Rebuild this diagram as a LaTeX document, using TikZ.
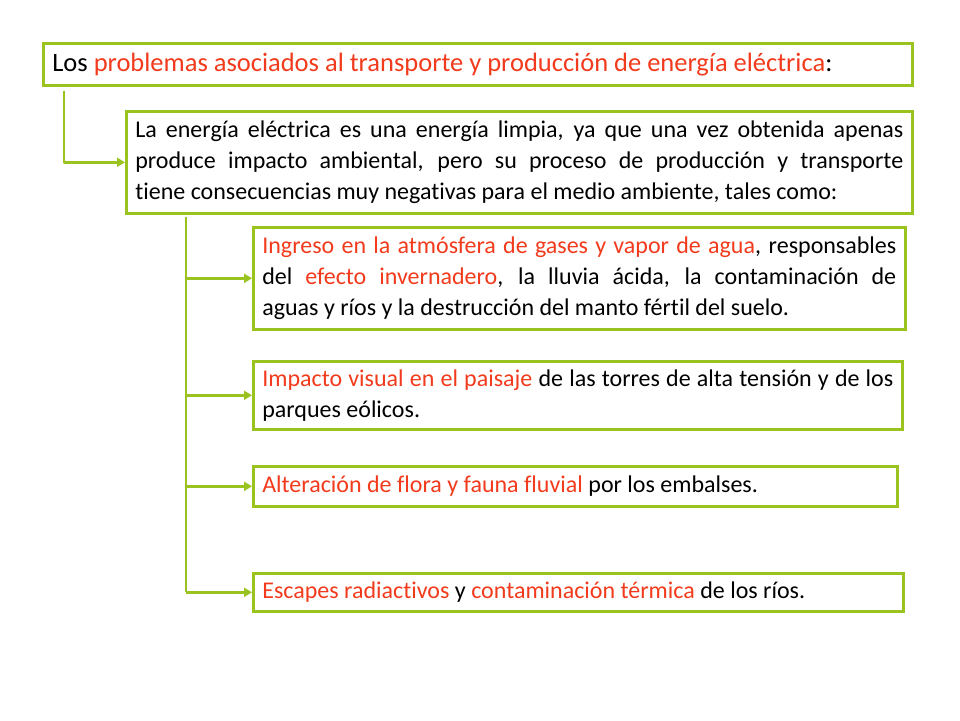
\documentclass[tikz,border=0pt]{standalone}
\usepackage{fontspec}
\setmainfont{Carlito}[Ligatures=NoCommon]
\usepackage{xcolor}
\usepackage{tikz}
\usetikzlibrary{calc,arrows.meta,positioning}
\definecolor{lime}{HTML}{9BC31F}
\definecolor{hot}{HTML}{F23A1C}
\definecolor{ink}{HTML}{000000}
\tikzset{
  box/.style={draw=lime, line width=2.6pt, anchor=north west, inner xsep=9pt, inner ysep=5pt, align=justify, text=ink, font=\fontsize{24}{31}\selectfont},
  con/.style={draw=lime, line width=2.6pt, line join=round},
  tip/.style={con, -{Triangle[length=8pt, width=9pt]}},
}

\begin{document}
\begin{tikzpicture}[x=1pt, y=-1pt]
\useasboundingbox (0,0) rectangle (960,720);

% title and intro
\node[box, text width=851pt, minimum height=42pt, font=\fontsize{26.5}{30}\selectfont] (title) at (42,42)
  {Los \textcolor{hot}{problemas asociados al transporte y producción de energía eléctrica}:};
\node[box, text width=768pt, minimum height=102pt] (intro) at (125,110)
  {La energía eléctrica es una energía limpia, ya que una vez obtenida apenas\linebreak
   produce impacto ambiental, pero su proceso de producción y transporte\linebreak
   tiene consecuencias muy negativas para el medio ambiente, tales como:};

% consequences
\node[box, text width=634pt, minimum height=102pt] (gases) at (252,226)
  {\textcolor{hot}{Ingreso en la atmósfera de gases y vapor de agua}, responsables\linebreak
   del \textcolor{hot}{efecto invernadero}, la lluvia ácida, la contaminación de\linebreak
   aguas y ríos y la destrucción del manto fértil del suelo.};
\node[box, text width=631pt, minimum height=68pt] (visual) at (252,360)
  {\textcolor{hot}{Impacto visual en el paisaje} de las torres de alta tensión y de los\linebreak
   parques eólicos.};
\node[box, text width=626pt, minimum height=40pt] (flora) at (252,465)
  {\textcolor{hot}{Alteración de flora y fauna fluvial} por los embalses.};
\node[box, text width=632pt, minimum height=38pt] (escapes) at (252,572)
  {\textcolor{hot}{Escapes radiactivos} y \textcolor{hot}{contaminación térmica} de los ríos.};

% connectors
\coordinate (drop) at ($(title.south west)+(22,4)$);
\draw[tip] (drop) |- (intro.west);
\coordinate (trunk) at ($(intro.south west)+(61,2)$);
\draw[con] (trunk) -- (trunk |- escapes.west);
\foreach \b in {gases,visual,flora,escapes}{
  \draw[tip] (trunk |- \b.west) -- (\b.west);
}
\end{tikzpicture}
\end{document}
